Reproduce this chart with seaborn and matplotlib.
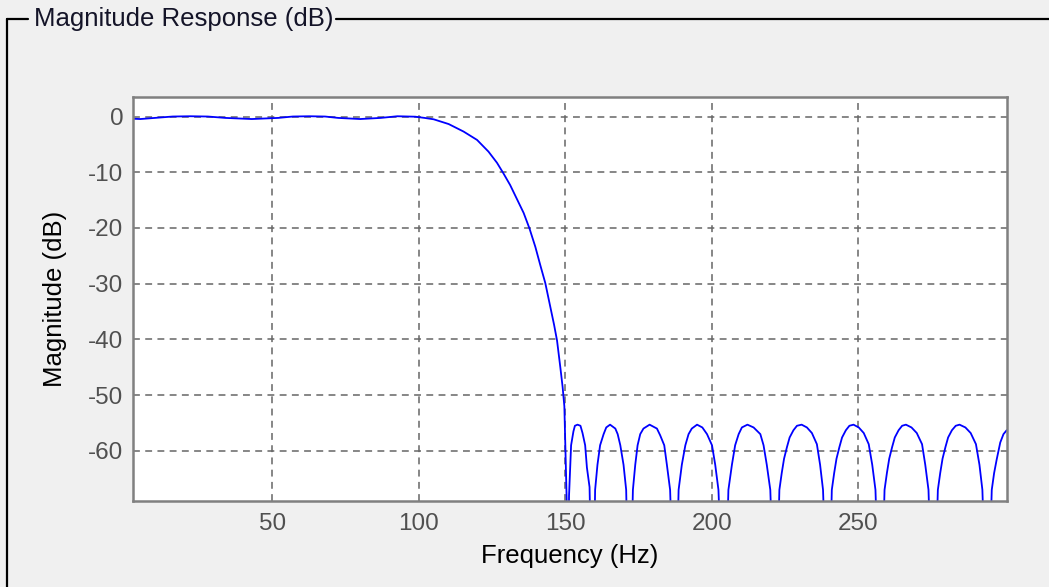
"""
plot.py - magnitude response of a lowpass filter, FDATool style panel

Output : out.png (1049 x 587)
"""

import matplotlib
matplotlib.use("Agg")
import matplotlib.pyplot as plt
import seaborn as sns
import pandas as pd
from matplotlib.lines import Line2D

# ---------------------------------------------------------------------------
# Data
# ---------------------------------------------------------------------------

# passband ripple + transition band
pass_hz = [2.45, 5, 10, 16, 22, 28, 34, 43, 52, 57, 62.6, 68, 72.5, 80, 87,
           92.7, 98.8, 102, 105.1, 110.2, 115.3, 119.9, 123.8, 126.7, 128.9,
           131.2, 133.5, 135.8, 137.8, 139.8, 141.5, 143.2, 144.9, 146.2,
           147.2, 148.3, 149.1, 149.7, 150.5, 150.9]
pass_db = [-0.4, -0.45, -0.25, 0.0, 0.05, 0.0, -0.25, -0.45, -0.25, 0.0, 0.05,
           0.0, -0.25, -0.45, -0.25, 0.05, -0.03, -0.25, -0.5, -1.35, -2.7,
           -4.2, -6.3, -8.3, -10.2, -12.3, -14.8, -17.3, -20.1, -23.4, -26.7,
           -29.9, -34.1, -37.4, -40.2, -44.9, -48.5, -52.0, -69.0, -95.0]

# stopband lobes (equiripple, peaks near -55 dB)
stop_hz = [
    151.3, 151.6, 152.0, 152.8, 153.3, 154.2, 155.2, 155.9, 156.8, 157.4, 158.3, 159.4,
    160.2, 161.0, 161.9, 163.1, 164.0, 165.3, 167.1, 167.9, 168.8, 169.9, 170.8, 171.9,
    173.1, 173.9, 174.7, 175.6, 176.7, 178.8, 181.3, 182.4, 183.8, 184.7, 185.8, 187.5,
    188.7, 189.8, 191.0, 192.1, 193.2, 195.0, 196.8, 198.4, 200.1, 201.2, 202.3, 204.3,
    205.7, 206.9, 208.0, 209.2, 210.3, 212.2, 214.3, 216.6, 217.7, 218.8, 220.0, 221.8,
    223.1, 223.9, 224.7, 225.7, 226.6, 227.9, 229.1, 230.7, 232.5, 234.2, 235.9, 237.0, 238.0, 239.8,
    241.0, 241.8, 242.6, 243.6, 244.5, 245.8, 247.0, 248.4, 250.2, 251.9, 253.6, 254.8, 255.9, 257.6,
    259.0, 259.8, 260.6, 261.6, 262.5, 263.8, 265.0, 266.3, 268.2, 270.0, 271.8, 272.9, 274.0, 275.7,
    277.2, 278.0, 278.8, 279.8, 280.7, 282.0, 283.3, 284.6, 286.6, 288.4, 290.2, 291.4, 292.4, 294.1,
    295.6, 296.4, 297.3, 298.5, 299.6, 300.7,
]
stop_db = [
    -68, -64, -59, -56.5, -55.5, -55.3, -55.5, -56.8, -59, -63, -66.5, -95,
    -67, -62.5, -59, -57, -55.8, -55.3, -56, -57, -59, -62.5, -67, -95,
    -67, -62.5, -59, -57, -56, -55.3, -56, -57.2, -59, -62.5, -67, -95,
    -67, -62.5, -59, -57, -56, -55.3, -55.8, -57, -59, -62.5, -67, -95,
    -67, -62.5, -59, -57, -55.8, -55.3, -55.8, -57, -59, -62.5, -67, -95,
    -67, -64, -61.4, -59.3, -57.6, -56.3, -55.5, -55.3, -55.8, -56.8, -58.8, -62.5, -67, -95,
    -67, -64, -61.4, -59.3, -57.6, -56.3, -55.5, -55.3, -55.8, -56.8, -58.8, -62.5, -67, -95,
    -67, -64, -61.4, -59.3, -57.6, -56.3, -55.5, -55.3, -55.8, -56.8, -58.8, -62.5, -67, -95,
    -67, -64, -61.4, -59.3, -57.6, -56.3, -55.5, -55.3, -55.8, -56.8, -58.8, -62.5, -67, -95,
    -67, -64, -61.5, -58.5, -57, -56.3,
]

x_ticks = [50, 100, 150, 200, 250]
y_ticks = [0, -10, -20, -30, -40, -50, -60]

PANEL_BG = "#f0f0f0"
TICK_COL = "#505050"
FONT     = ["Liberation Sans", "DejaVu Sans"]


def draw_frame(fig) -> None:
    """Group-box frame with its caption, as in the MATLAB panel."""
    W, H = fig.get_size_inches() * fig.dpi
    y_top = 1 - 19 / H
    kw = dict(color="black", lw=1.6, transform=fig.transFigure)
    fig.add_artist(Line2D([7 / W, 7 / W], [0, y_top], **kw))
    fig.add_artist(Line2D([7 / W, 28 / W], [y_top, y_top], **kw))
    fig.add_artist(Line2D([336 / W, 1], [y_top, y_top], **kw))
    fig.text(34 / W, y_top, "Magnitude Response (dB)", ha="left", va="center",
             fontsize=18.5, color="#141428", family=FONT)


def main() -> None:
    sns.set_theme(style="whitegrid")
    plt.rcParams["font.family"] = FONT
    plt.rcParams["axes.unicode_minus"] = False   # MATLAB uses a plain hyphen

    df = pd.DataFrame({
        "freq": pass_hz + stop_hz,
        "mag": pass_db + stop_db,
    })

    fig = plt.figure(figsize=(10.49, 5.87), dpi=100, facecolor=PANEL_BG)
    ax = fig.add_axes([133 / 1049, 1 - 501 / 587, 873.7 / 1049, 403.7 / 587])
    ax.set_facecolor("white")

    sns.lineplot(data=df, x="freq", y="mag", sort=False, color="#0000ff",
                 lw=1.3, ax=ax)

    ax.set_xlim(2.45, 300.7)
    ax.set_ylim(-69.0, 3.45)
    ax.set_xticks(x_ticks)
    ax.set_yticks(y_ticks)

    ax.grid(True, color="#666666", ls=(0, (4.5, 3.5)), lw=1.1)
    for s in ax.spines.values():
        s.set_color("#808080")
        s.set_linewidth(1.8)
    ax.tick_params(direction="in", length=6, width=1.1, color="#808080",
                   labelsize=17.5, labelcolor=TICK_COL)
    ax.tick_params(axis="x", pad=9)
    ax.tick_params(axis="y", pad=7)

    ax.set_xlabel("Frequency (Hz)", fontsize=18.5, color="black", labelpad=6)
    ax.set_ylabel("Magnitude (dB)", fontsize=18.5, color="black", labelpad=15)

    draw_frame(fig)
    fig.savefig("out.png", dpi=100, facecolor=PANEL_BG)
    plt.close(fig)


if __name__ == "__main__":
    main()
